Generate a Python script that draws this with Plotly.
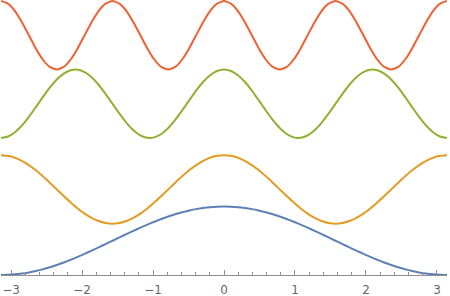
import numpy as np
import plotly.graph_objects as go

# x positions: -pi .. pi in steps of pi/32
x_steps = list(range(-32, 33))
x_vals = [k * np.pi / 32 for k in x_steps]

blue = [-1, -0.995, -0.981, -0.957, -0.924, -0.882, -0.831, -0.773, -0.707, -0.634, -0.556, -0.471, -0.383, -0.290, -0.195, -0.098,
        0, 0.098, 0.195, 0.290, 0.383, 0.471, 0.556, 0.634, 0.707, 0.773, 0.831, 0.882, 0.924, 0.957, 0.981, 0.995,
        1, 0.995, 0.981, 0.957, 0.924, 0.882, 0.831, 0.773, 0.707, 0.634, 0.556, 0.471, 0.383, 0.290, 0.195, 0.098,
        0, -0.098, -0.195, -0.290, -0.383, -0.471, -0.556, -0.634, -0.707, -0.773, -0.831, -0.882, -0.924, -0.957, -0.981, -0.995, -1]
orange = [2.5, 2.481, 2.424, 2.331, 2.207, 2.056, 1.883, 1.695, 1.5, 1.305, 1.117, 0.944, 0.793, 0.669, 0.576, 0.519,
          0.5, 0.519, 0.576, 0.669, 0.793, 0.944, 1.117, 1.305, 1.5, 1.695, 1.883, 2.056, 2.207, 2.331, 2.424, 2.481,
          2.5, 2.481, 2.424, 2.331, 2.207, 2.056, 1.883, 1.695, 1.5, 1.305, 1.117, 0.944, 0.793, 0.669, 0.576, 0.519,
          0.5, 0.519, 0.576, 0.669, 0.793, 0.944, 1.117, 1.305, 1.5, 1.695, 1.883, 2.056, 2.207, 2.331, 2.424, 2.481, 2.5]
green = [3, 3.043, 3.169, 3.366, 3.617, 3.902, 4.195, 4.471, 4.707, 4.882, 4.981, 4.995, 4.924, 4.773, 4.556, 4.290,
         4, 3.710, 3.444, 3.227, 3.076, 3.005, 3.019, 3.118, 3.293, 3.529, 3.805, 4.098, 4.383, 4.634, 4.831, 4.957,
         5, 4.957, 4.831, 4.634, 4.383, 4.098, 3.805, 3.529, 3.293, 3.118, 3.019, 3.005, 3.076, 3.227, 3.444, 3.710,
         4, 4.290, 4.556, 4.773, 4.924, 4.995, 4.981, 4.882, 4.707, 4.471, 4.195, 3.902, 3.617, 3.366, 3.169, 3.043, 3]
red = [7, 6.924, 6.707, 6.383, 6, 5.617, 5.293, 5.076, 5, 5.076, 5.293, 5.617, 6, 6.383, 6.707, 6.924,
       7, 6.924, 6.707, 6.383, 6, 5.617, 5.293, 5.076, 5, 5.076, 5.293, 5.617, 6, 6.383, 6.707, 6.924,
       7, 6.924, 6.707, 6.383, 6, 5.617, 5.293, 5.076, 5, 5.076, 5.293, 5.617, 6, 6.383, 6.707, 6.924,
       7, 6.924, 6.707, 6.383, 6, 5.617, 5.293, 5.076, 5, 5.076, 5.293, 5.617, 6, 6.383, 6.707, 6.924, 7]

series = [("blue", blue, "#5E81B5"), ("orange", orange, "#E19C24"),
          ("green", green, "#8FB032"), ("red", red, "#EB6235")]

tick_vals = [-3, -2, -1, 0, 1, 2, 3]
tick_text = ["\u22123", "\u22122", "\u22121", "0", "1", "2", "3"]

fig = go.Figure()
for name, ys, col in series:
    fig.add_trace(go.Scatter(x=x_vals, y=ys, mode="lines", name=name,
                             line=dict(color=col, width=2, shape="spline", smoothing=0.5),
                             cliponaxis=False))

fig.update_layout(
    width=450, height=296,
    margin=dict(l=1, r=3, t=0, b=21, autoexpand=False),
    paper_bgcolor="white", plot_bgcolor="white",
    showlegend=False,
    font=dict(family="DejaVu Sans", size=12, color="#666666"),
)
fig.update_xaxes(range=[-np.pi, np.pi], showgrid=False, zeroline=False, automargin=False,
                 showline=True, linecolor="#8c8c8c", linewidth=1,
                 ticks="inside", ticklen=5, tickcolor="#8c8c8c", tickwidth=1,
                 tickvals=tick_vals, ticktext=tick_text, ticklabelstandoff=4,
                 minor=dict(ticks="inside", ticklen=3, dtick=0.2, tick0=0,
                            tickcolor="#8c8c8c", showgrid=False),
                 tickfont=dict(size=12, color="#666666"))
fig.update_yaxes(range=[-1, 7.03], visible=False, showgrid=False, zeroline=False, automargin=False)

fig.write_html("out.html")
